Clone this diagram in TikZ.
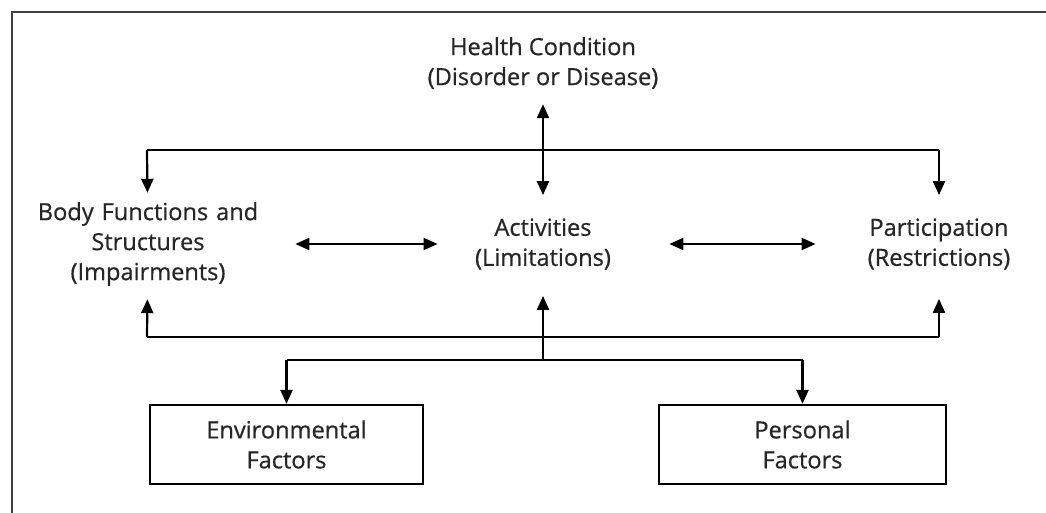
\documentclass[tikz,border=0pt]{standalone}
\usepackage{fontspec}
\setmainfont{Open Sans}
\newfontfamily\figfont{Open Sans}[FakeBold=0.6]
\usetikzlibrary{arrows.meta}
\tikzset{
  lbl/.style={align=center,inner sep=0pt,text=black!85,font=\figfont\fontsize{11.8}{15}\selectfont},
  box/.style={draw,line width=1.1pt,align=center,minimum height=39.5pt,text=black!85,font=\figfont\fontsize{11.8}{15}\selectfont},
  conn/.style={line width=1.1pt}
}
\begin{document}
\begin{tikzpicture}[x=0.5pt,y=-0.5pt,>={Triangle[length=7pt,width=6pt]},line join=miter]
\useasboundingbox (0,0) rectangle (1046,513);
\draw[line width=1.4pt,black!75] (12,513) -- (12,12) -- (1046,12);
% labels
\node[lbl] (hc) at (543,63) {Health Condition\\(Disorder or Disease)};
\node[lbl,text width=118pt] (bf) at (148,244) {Body Functions and\\Structures\\(Impairments)};
\node[lbl,text width=75pt] (act) at (543,244) {Activities\\(Limitations)};
\node[lbl,text width=78pt] (par) at (939,244) {Participation\\(Restrictions)};
\node[box,minimum width=136.5pt] (env) at (286.5,444.5) {Environmental\\Factors};
\node[box,minimum width=143.5pt] (pf) at (802.5,444.5) {Personal\\Factors};
% junctions
\coordinate (tl) at (147,150);
\coordinate (tr) at (939,150);
\coordinate (bl) at (147,337);
\coordinate (br) at (939,337);
\coordinate (ml) at (286.5,360);
\coordinate (mc) at (543,360);
\coordinate (mr) at (802.5,360);
% connectors
\draw[conn] (tl) -- (tr);
\draw[conn,<->,shorten <=7.5pt,shorten >=11.5pt] (hc) -- (act);
\draw[conn,->,shorten >=4.5pt] (tl) -- (bf);
\draw[conn,->,shorten >=11.5pt] (tr) -- (par);
\draw[conn,<->,shorten <=14.5pt,shorten >=15pt] (bf) -- (act);
\draw[conn,<->,shorten <=25.5pt,shorten >=22.5pt] (act) -- (par);
\draw[conn] (bl) -- (br);
\draw[conn,->,shorten >=6.5pt] (bl) -- (bf);
\draw[conn,->,shorten >=14.5pt] (br) -- (par);
\draw[conn] (ml) -- (mr);
\draw[conn,->,shorten >=13pt] (mc) -- (act);
\draw[conn,->] (ml) -- (env);
\draw[conn,->] (mr) -- (pf);
\end{tikzpicture}
\end{document}
